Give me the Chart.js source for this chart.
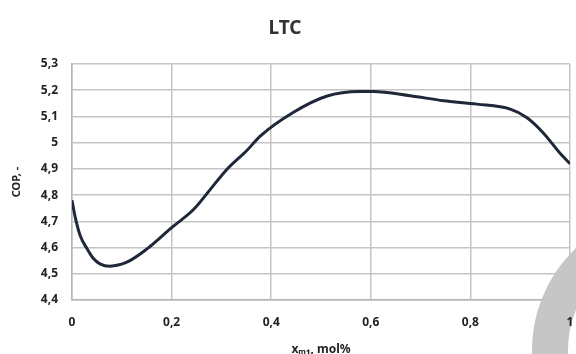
<!DOCTYPE html>
<html>
<head>
<meta charset="utf-8">
<script src="https://cdn.jsdelivr.net/npm/chart.js@4"></script>
<style>
  html, body { margin: 0; padding: 0; background: #fff; }
  #wrap { width: 576px; height: 354px; }
</style>
</head>
<body>
<div id="wrap"><canvas id="chart" width="576" height="354"></canvas></div>
<script>
// x = molar fraction
const xValues = [0, 0.006, 0.016, 0.03, 0.043, 0.056, 0.076, 0.11, 0.15, 0.2, 0.244, 0.277, 0.31, 0.351, 0.378,
  0.444, 0.511, 0.578, 0.605, 0.679, 0.746, 0.813, 0.88, 0.913, 0.946, 0.98, 1.0];
const copValues = [4.78, 4.72, 4.648, 4.596, 4.558, 4.538, 4.529, 4.544, 4.594, 4.676, 4.745, 4.82, 4.896, 4.97, 5.025,
  5.115, 5.177, 5.195, 5.195, 5.179, 5.16, 5.147, 5.128, 5.096, 5.038, 4.96, 4.92];

const xTickValues = [0, 0.2, 0.4, 0.6, 0.8, 1];
const xTickLabels = ['0', '0,2', '0,4', '0,6', '0,8', '1'];
const yTickValues = [4.4, 4.5, 4.6, 4.7, 4.8, 4.9, 5.0, 5.1, 5.2, 5.3];
const yTickLabels = ['4,4', '4,5', '4,6', '4,7', '4,8', '4,9', '5', '5,1', '5,2', '5,3'];

const FONT = '"Noto Sans", "DejaVu Sans", sans-serif';
const GRID = '#c4c4c4';

function labelFor(values, labels, v) {
  const i = values.findIndex(t => Math.abs(t - v) < 1e-6);
  return i >= 0 ? labels[i] : '';
}

// grey ring in the lower right corner of the picture
const ringPlugin = {
  id: 'ring',
  beforeDatasetsDraw(chart) {
    const ctx = chart.ctx;
    ctx.save();
    ctx.beginPath();
    ctx.arc(672, 350, 122, 0, Math.PI * 2);
    ctx.lineWidth = 36;
    ctx.strokeStyle = '#c6c6c6';
    ctx.stroke();
    ctx.restore();
  }
};

new Chart(document.getElementById('chart'), {
  type: 'scatter',
  data: {
    datasets: [{
      data: xValues.map((x, i) => ({ x: x, y: copValues[i] })),
      showLine: true,
      borderColor: '#1f2838',
      borderWidth: 3,
      pointRadius: 0,
      cubicInterpolationMode: 'monotone',
      fill: false
    }]
  },
  options: {
    responsive: false,
    animation: false,
    layout: { padding: { left: 0, right: 6, top: 0, bottom: 0 } },
    plugins: {
      legend: { display: false },
      tooltip: { enabled: false },
      title: {
        display: true,
        text: 'LTC',
        color: '#333',
        font: { family: FONT, size: 19, weight: 'bold' },
        padding: { top: 17, bottom: 24.2 }
      }
    },
    scales: {
      x: {
        type: 'linear',
        min: 0,
        max: 1,
        afterBuildTicks: (s) => { s.ticks = xTickValues.map(v => ({ value: v })); },
        afterFit: (s) => { s.height = 54; s.paddingLeft = 0; s.paddingRight = 0; },
        grid: { color: GRID, lineWidth: 1.5, drawTicks: false },
        border: { color: '#b5b5b5', width: 1.5 },
        ticks: {
          z: 1,
          padding: 15,
          color: '#222',
          font: { family: FONT, size: 12, weight: 'bold' },
          maxRotation: 0,
          callback: (v) => labelFor(xTickValues, xTickLabels, v)
        },
        title: {
          display: true,
          text: 'xₘ₁, mol%',
          color: '#222',
          font: { family: FONT, size: 12, weight: 'bold' },
          padding: { top: 0, bottom: -3 }
        }
      },
      y: {
        min: 4.4,
        max: 5.3,
        afterBuildTicks: (s) => { s.ticks = yTickValues.map(v => ({ value: v })); },
        afterFit: (s) => { s.width = 72; s.paddingTop = 0; s.paddingBottom = 0; },
        grid: { color: GRID, lineWidth: 1.5, drawTicks: false },
        border: { color: '#b5b5b5', width: 1.5 },
        ticks: {
          z: 1,
          padding: 14,
          color: '#222',
          font: { family: FONT, size: 12, weight: 'bold' },
          callback: (v) => labelFor(yTickValues, yTickLabels, v)
        },
        title: {
          display: true,
          text: 'COP, -',
          color: '#222',
          font: { family: FONT, size: 11, weight: 'bold' },
          padding: { top: 10, bottom: 0 }
        }
      }
    }
  },
  plugins: [ringPlugin]
});
</script>
</body>
</html>
